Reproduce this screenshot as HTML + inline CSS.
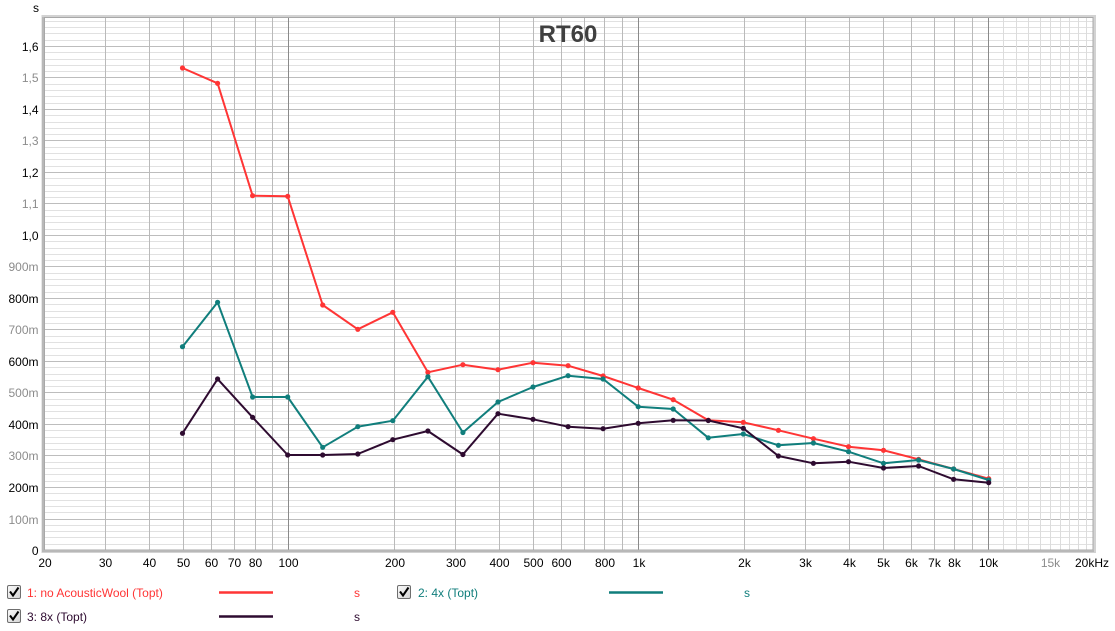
<!DOCTYPE html>
<html>
<head>
<meta charset="utf-8">
<style>
html,body{margin:0;padding:0;background:#fff;}
body{width:1115px;height:631px;overflow:hidden;}
svg{display:block;font-family:"Liberation Sans",Arial,sans-serif;}
</style>
</head>
<body>
<svg width="1115" height="631" viewBox="0 0 1115 631" xmlns="http://www.w3.org/2000/svg">
<defs>
<linearGradient id="cb" x1="0" y1="0" x2="1" y2="1">
<stop offset="0" stop-color="#fafafa"/><stop offset="1" stop-color="#d4d4d4"/>
</linearGradient>
</defs>
<rect x="0" y="0" width="1115" height="631" fill="#fff"/>
<!-- frame shadow -->
<rect x="43" y="16.5" width="1051.5" height="535" fill="none" stroke="#d2d2d2" stroke-width="3"/>
<rect x="44" y="17.5" width="1049" height="532.5" fill="#fff"/>

<!-- minor horizontal grid -->
<path fill="none" stroke="#e1e1e1" stroke-width="1" d="M44 544.5H1093M44 537.5H1093M44 531.5H1093M44 525.5H1093M44 512.5H1093M44 506.5H1093M44 500.5H1093M44 493.5H1093M44 481.5H1093M44 474.5H1093M44 468.5H1093M44 462.5H1093M44 449.5H1093M44 443.5H1093M44 437.5H1093M44 430.5H1093M44 418.5H1093M44 411.5H1093M44 405.5H1093M44 399.5H1093M44 386.5H1093M44 380.5H1093M44 374.5H1093M44 367.5H1093M44 355.5H1093M44 348.5H1093M44 342.5H1093M44 336.5H1093M44 323.5H1093M44 317.5H1093M44 311.5H1093M44 304.5H1093M44 292.5H1093M44 285.5H1093M44 279.5H1093M44 273.5H1093M44 260.5H1093M44 254.5H1093M44 248.5H1093M44 241.5H1093M44 229.5H1093M44 222.5H1093M44 216.5H1093M44 210.5H1093M44 197.5H1093M44 191.5H1093M44 185.5H1093M44 178.5H1093M44 166.5H1093M44 159.5H1093M44 153.5H1093M44 147.5H1093M44 134.5H1093M44 128.5H1093M44 122.5H1093M44 115.5H1093M44 103.5H1093M44 96.5H1093M44 90.5H1093M44 84.5H1093M44 71.5H1093M44 65.5H1093M44 59.5H1093M44 52.5H1093M44 40.5H1093M44 33.5H1093M44 27.5H1093M44 21.5H1093"/>
<!-- major horizontal grid -->
<path fill="none" stroke="#bdbdbd" stroke-width="1" d="M44 519.5H1093M44 487.5H1093M44 455.5H1093M44 424.5H1093M44 392.5H1093M44 361.5H1093M44 329.5H1093M44 298.5H1093M44 266.5H1093M44 235.5H1093M44 203.5H1093M44 172.5H1093M44 140.5H1093M44 109.5H1093M44 77.5H1093M44 46.5H1093"/>

<!-- vertical grid light (10k-20k) -->
<path fill="none" stroke="#dcdcdc" stroke-width="1" d="M1003.5 18V550M1016.5 18V550M1028.5 18V550M1040.5 18V550M1050.5 18V550M1060.5 18V550M1069.5 18V550M1078.5 18V550M1086.5 18V550"/>
<!-- vertical grid medium -->
<path fill="none" stroke="#bababa" stroke-width="1" d="M105.5 18V550M149.5 18V550M183.5 18V550M211.5 18V550M234.5 18V550M255.5 18V550M272.5 18V550M394.5 18V550M455.5 18V550M499.5 18V550M533.5 18V550M561.5 18V550M584.5 18V550M604.5 18V550M622.5 18V550M744.5 18V550M805.5 18V550M849.5 18V550M883.5 18V550M911.5 18V550M934.5 18V550M954.5 18V550M972.5 18V550"/>
<!-- decade lines -->
<path fill="none" stroke="#8a8a8a" stroke-width="1" d="M288.5 18V550M638.5 18V550M988.5 18V550"/>

<!-- frame border -->
<rect x="44.5" y="17.5" width="1048.5" height="532.5" fill="none" stroke="#a8a8a8" stroke-width="1"/>
<line x1="43" y1="17" x2="43" y2="552" stroke="#b8b8b8" stroke-width="2"/>
<line x1="43" y1="551" x2="1094" y2="551" stroke="#b8b8b8" stroke-width="2"/>

<!-- title -->
<text x="568" y="42" font-size="24" font-weight="bold" fill="#404040" text-anchor="middle">RT60</text>

<!-- y unit -->
<text x="33" y="12" font-size="12" fill="#000">s</text>

<!-- y labels -->
<g font-size="12" text-anchor="end">
<text x="38.5" y="51" fill="#000">1,6</text>
<text x="38.5" y="82" fill="#8c8c8c">1,5</text>
<text x="38.5" y="114" fill="#000">1,4</text>
<text x="38.5" y="145" fill="#8c8c8c">1,3</text>
<text x="38.5" y="177" fill="#000">1,2</text>
<text x="38.5" y="208" fill="#8c8c8c">1,1</text>
<text x="38.5" y="240" fill="#000">1,0</text>
<text x="38.5" y="271" fill="#8c8c8c">900m</text>
<text x="38.5" y="303" fill="#000">800m</text>
<text x="38.5" y="334" fill="#8c8c8c">700m</text>
<text x="38.5" y="366" fill="#000">600m</text>
<text x="38.5" y="397" fill="#8c8c8c">500m</text>
<text x="38.5" y="429" fill="#000">400m</text>
<text x="38.5" y="460" fill="#8c8c8c">300m</text>
<text x="38.5" y="492" fill="#000">200m</text>
<text x="38.5" y="524" fill="#8c8c8c">100m</text>
<text x="38.5" y="555" fill="#000">0</text>
</g>

<!-- x labels -->
<g font-size="12" text-anchor="middle" fill="#000">
<text x="45" y="567">20</text>
<text x="105.5" y="567">30</text>
<text x="149.5" y="567">40</text>
<text x="183.5" y="567">50</text>
<text x="211.5" y="567">60</text>
<text x="234.5" y="567">70</text>
<text x="255.5" y="567">80</text>
<text x="288.5" y="567">100</text>
<text x="395" y="567">200</text>
<text x="456" y="567">300</text>
<text x="499.5" y="567">400</text>
<text x="533.5" y="567">500</text>
<text x="561.5" y="567">600</text>
<text x="605" y="567">800</text>
<text x="639" y="567">1k</text>
<text x="744.5" y="567">2k</text>
<text x="805.5" y="567">3k</text>
<text x="849.5" y="567">4k</text>
<text x="883.5" y="567">5k</text>
<text x="911.5" y="567">6k</text>
<text x="934.5" y="567">7k</text>
<text x="954.5" y="567">8k</text>
<text x="988.5" y="567">10k</text>
<text x="1050.5" y="567" fill="#8c8c8c">15k</text>
<text x="1092" y="567">20kHz</text>
</g>

<!-- series: red -->
<g stroke="#ff3535" fill="#ff3535">
<polyline fill="none" stroke-width="2" stroke-linejoin="round" points="182.5,68 217.6,83.3 252.6,195.7 287.7,196.3 322.7,305 357.8,329.3 392.8,312.3 427.9,372.3 462.9,364.7 498,369.7 533,362.7 568.1,365.7 603.1,376 638.2,388 673.2,399.7 708.3,420.2 743.3,422.3 778.4,430.3 813.4,438.7 848.5,446.7 883.5,450.3 918.6,459.3 953.6,469 988.7,478.7"/>
<g stroke="none">
<circle cx="182.5" cy="68" r="2.6"/><circle cx="217.6" cy="83.3" r="2.6"/><circle cx="252.6" cy="195.7" r="2.6"/><circle cx="287.7" cy="196.3" r="2.6"/><circle cx="322.7" cy="305" r="2.6"/><circle cx="357.8" cy="329.3" r="2.6"/><circle cx="392.8" cy="312.3" r="2.6"/><circle cx="427.9" cy="372.3" r="2.6"/><circle cx="462.9" cy="364.7" r="2.6"/><circle cx="498" cy="369.7" r="2.6"/><circle cx="533" cy="362.7" r="2.6"/><circle cx="568.1" cy="365.7" r="2.6"/><circle cx="603.1" cy="376" r="2.6"/><circle cx="638.2" cy="388" r="2.6"/><circle cx="673.2" cy="399.7" r="2.6"/><circle cx="708.3" cy="420.2" r="2.6"/><circle cx="743.3" cy="422.3" r="2.6"/><circle cx="778.4" cy="430.3" r="2.6"/><circle cx="813.4" cy="438.7" r="2.6"/><circle cx="848.5" cy="446.7" r="2.6"/><circle cx="883.5" cy="450.3" r="2.6"/><circle cx="918.6" cy="459.3" r="2.6"/><circle cx="953.6" cy="469" r="2.6"/><circle cx="988.7" cy="478.7" r="2.6"/>
</g>
</g>

<!-- series: teal -->
<g stroke="#107e7c" fill="#107e7c">
<polyline fill="none" stroke-width="2" stroke-linejoin="round" points="182.5,346.7 217.6,302.3 252.6,397 287.7,397 322.7,447.3 357.8,426.7 392.8,420.7 427.9,376.7 462.9,432.5 498,402 533,387 568.1,375.7 603.1,379 638.2,406.7 673.2,409 708.3,437.8 743.3,434 778.4,445.3 813.4,443 848.5,451.7 883.5,463.3 918.6,460 953.6,469 988.7,480"/>
<g stroke="none">
<circle cx="182.5" cy="346.7" r="2.6"/><circle cx="217.6" cy="302.3" r="2.6"/><circle cx="252.6" cy="397" r="2.6"/><circle cx="287.7" cy="397" r="2.6"/><circle cx="322.7" cy="447.3" r="2.6"/><circle cx="357.8" cy="426.7" r="2.6"/><circle cx="392.8" cy="420.7" r="2.6"/><circle cx="427.9" cy="376.7" r="2.6"/><circle cx="462.9" cy="432.5" r="2.6"/><circle cx="498" cy="402" r="2.6"/><circle cx="533" cy="387" r="2.6"/><circle cx="568.1" cy="375.7" r="2.6"/><circle cx="603.1" cy="379" r="2.6"/><circle cx="638.2" cy="406.7" r="2.6"/><circle cx="673.2" cy="409" r="2.6"/><circle cx="708.3" cy="437.8" r="2.6"/><circle cx="743.3" cy="434" r="2.6"/><circle cx="778.4" cy="445.3" r="2.6"/><circle cx="813.4" cy="443" r="2.6"/><circle cx="848.5" cy="451.7" r="2.6"/><circle cx="883.5" cy="463.3" r="2.6"/><circle cx="918.6" cy="460" r="2.6"/><circle cx="953.6" cy="469" r="2.6"/><circle cx="988.7" cy="480" r="2.6"/>
</g>
</g>

<!-- series: dark purple -->
<g stroke="#2e0b30" fill="#2e0b30">
<polyline fill="none" stroke-width="2" stroke-linejoin="round" points="182.5,433.3 217.6,379 252.6,417.3 287.7,455 322.7,455 357.8,454 392.8,439.7 427.9,431 462.9,454.5 498,413.7 533,419.3 568.1,426.7 603.1,428.7 638.2,423.3 673.2,420.3 708.3,420.5 743.3,428.3 778.4,456 813.4,463.3 848.5,461.7 883.5,468 918.6,466 953.6,479.3 988.7,482.7"/>
<g stroke="none">
<circle cx="182.5" cy="433.3" r="2.6"/><circle cx="217.6" cy="379" r="2.6"/><circle cx="252.6" cy="417.3" r="2.6"/><circle cx="287.7" cy="455" r="2.6"/><circle cx="322.7" cy="455" r="2.6"/><circle cx="357.8" cy="454" r="2.6"/><circle cx="392.8" cy="439.7" r="2.6"/><circle cx="427.9" cy="431" r="2.6"/><circle cx="462.9" cy="454.5" r="2.6"/><circle cx="498" cy="413.7" r="2.6"/><circle cx="533" cy="419.3" r="2.6"/><circle cx="568.1" cy="426.7" r="2.6"/><circle cx="603.1" cy="428.7" r="2.6"/><circle cx="638.2" cy="423.3" r="2.6"/><circle cx="673.2" cy="420.3" r="2.6"/><circle cx="708.3" cy="420.5" r="2.6"/><circle cx="743.3" cy="428.3" r="2.6"/><circle cx="778.4" cy="456" r="2.6"/><circle cx="813.4" cy="463.3" r="2.6"/><circle cx="848.5" cy="461.7" r="2.6"/><circle cx="883.5" cy="468" r="2.6"/><circle cx="918.6" cy="466" r="2.6"/><circle cx="953.6" cy="479.3" r="2.6"/><circle cx="988.7" cy="482.7" r="2.6"/>
</g>
</g>

<!-- legend -->
<g font-size="12">
<!-- item 1 -->
<rect x="7.5" y="585.5" width="13" height="13" rx="1.5" fill="url(#cb)" stroke="#6e6e6e"/>
<path d="M10 591.5 L13 595.5 L18.5 587.5" fill="none" stroke="#000" stroke-width="2"/>
<text x="27" y="597" fill="#ff3535">1: no AcousticWool (Topt)</text>
<line x1="219" y1="592.5" x2="273" y2="592.5" stroke="#ff3535" stroke-width="2.5"/>
<text x="354" y="597" fill="#ff3535">s</text>
<!-- item 2 -->
<rect x="397.5" y="585.5" width="13" height="13" rx="1.5" fill="url(#cb)" stroke="#6e6e6e"/>
<path d="M400 591.5 L403 595.5 L408.5 587.5" fill="none" stroke="#000" stroke-width="2"/>
<text x="418" y="597" fill="#107e7c">2: 4x (Topt)</text>
<line x1="609" y1="592.5" x2="663" y2="592.5" stroke="#107e7c" stroke-width="2.5"/>
<text x="744" y="597" fill="#107e7c">s</text>
<!-- item 3 -->
<rect x="7.5" y="609.5" width="13" height="13" rx="1.5" fill="url(#cb)" stroke="#6e6e6e"/>
<path d="M10 615.5 L13 619.5 L18.5 611.5" fill="none" stroke="#000" stroke-width="2"/>
<text x="27" y="621" fill="#2e0b30">3: 8x (Topt)</text>
<line x1="219" y1="616.5" x2="273" y2="616.5" stroke="#2e0b30" stroke-width="2.5"/>
<text x="354" y="621" fill="#2e0b30">s</text>
</g>
</svg>
</body>
</html>
